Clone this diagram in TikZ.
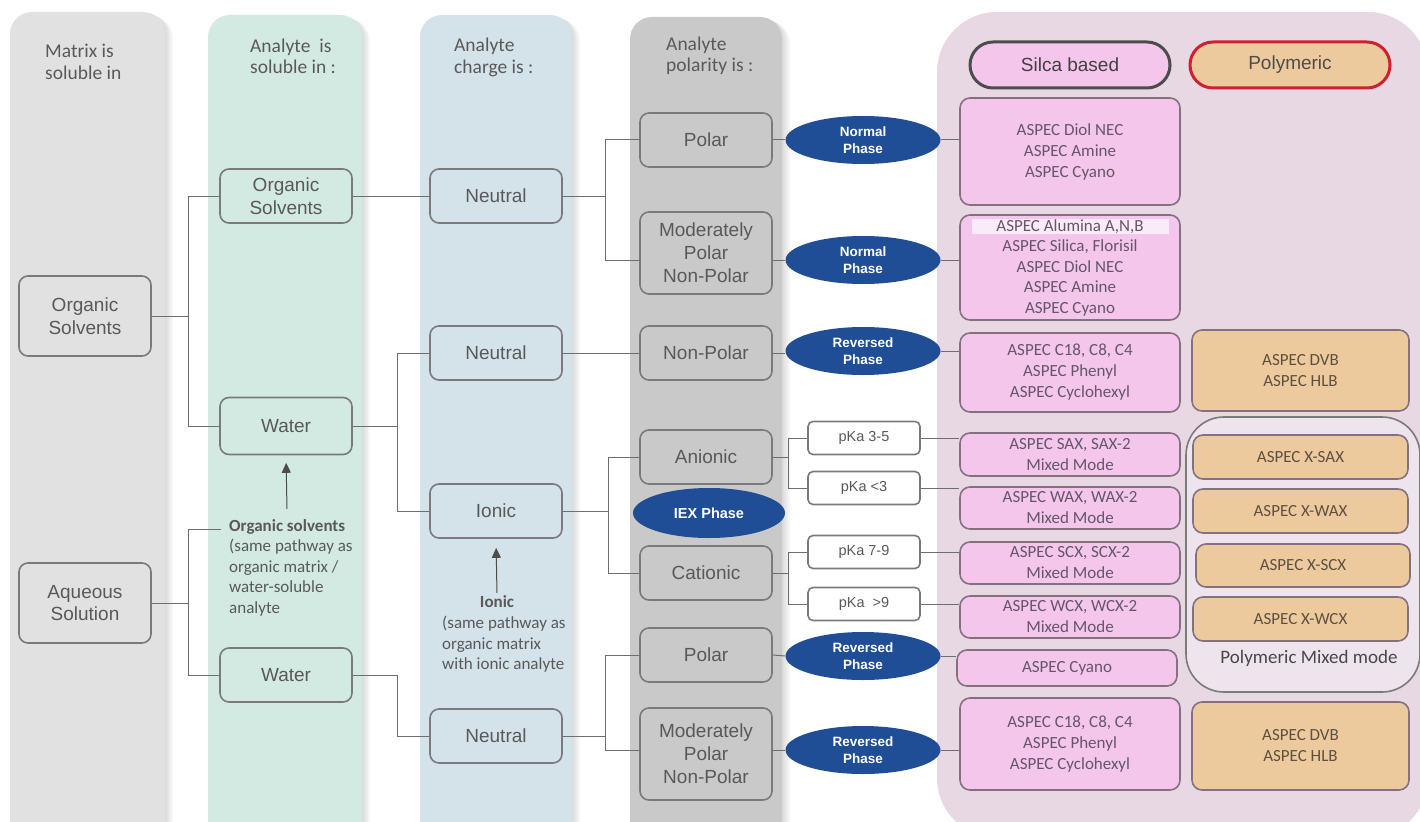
\documentclass[tikz,border=0pt]{standalone}
\usepackage{fontspec}
\setmainfont{Carlito}
\newfontfamily\arialfont{Liberation Sans}
\usetikzlibrary{arrows.meta, positioning, shapes.geometric}

\definecolor{bandmatrix}{HTML}{E1E1E1}
\definecolor{bandsolv}{HTML}{D3EAE2}
\definecolor{bandcharge}{HTML}{D4E2EA}
\definecolor{bandpol}{HTML}{C9C9C9}
\definecolor{bandsorb}{HTML}{E8D8E4}
\definecolor{mixfill}{HTML}{EEE4EE}
\definecolor{silpink}{HTML}{F5C6EC}
\definecolor{polytan}{HTML}{EDCA9E}
\definecolor{phaseblue}{HTML}{1F4E96}
\definecolor{boxedge}{HTML}{7A7A7A}
\definecolor{sorbedge}{HTML}{857080}
\definecolor{txtgray}{HTML}{595959}
\definecolor{sorbtxt}{HTML}{65566A}
\definecolor{polytxt}{HTML}{5E5040}
\definecolor{linkgray}{HTML}{6E6E6E}
\definecolor{polyred}{HTML}{D0202F}

\begin{document}
\begin{tikzpicture}[x=1pt, y=-1pt,
    box/.style={draw=boxedge, line width=1.6pt, rounded corners=9pt, minimum width=132pt,
      minimum height=54pt, align=center, text=txtgray, inner sep=2pt,
      font=\arialfont\fontsize{19}{22.5}\selectfont},
    phase/.style={ellipse, fill=phaseblue, minimum width=155pt, minimum height=48pt, inner sep=0pt,
      align=center, text=white, font=\arialfont\bfseries\fontsize{13.5}{17.5}\selectfont},
    pka/.style={draw=boxedge, fill=white, line width=1.6pt, rounded corners=5pt, minimum width=112pt,
      minimum height=33pt, inner sep=0pt, text=txtgray, font=\arialfont\fontsize{14.5}{17}\selectfont},
    sorb/.style={draw=sorbedge, line width=1.6pt, rounded corners=10pt, minimum width=220pt,
      inner sep=0pt, align=center, font=\fontsize{17}{21}\selectfont},
    silica/.style={sorb, fill=silpink, text=sorbtxt},
    poly/.style={sorb, fill=polytan, minimum width=217pt, text=polytxt},
    head/.style={anchor=north west, inner sep=0pt, align=left, text=txtgray,
      font=\fontsize{19.5}{21.5}\selectfont},
    note/.style={inner sep=0pt, align=left, text=txtgray, font=\fontsize{17}{20.6}\selectfont},
    notehead/.style={note, font=\bfseries\fontsize{17}{20.6}\selectfont},
    link/.style={draw=linkgray, line width=1pt},
    pointer/.style={draw=black!70, line width=1pt, -{Triangle[length=10pt, width=9pt]}},
    bandshade/.style={black, opacity=0.035, rounded corners=22pt}
  ]
  \useasboundingbox (0,0) rectangle (1420,821);

  % soft shadows of the bands
  \foreach \dx in {2,4,6,8} {
    \fill[bandshade] (10+\dx,12+\dx/2) rectangle (165+\dx,850);
    \fill[bandshade] (208+\dx,15+\dx/2) rectangle (362+\dx,850);
    \fill[bandshade] (420+\dx,15+\dx/2) rectangle (572+\dx,850);
    \fill[bandshade] (630+\dx,17+\dx/2) rectangle (782+\dx,850);
  }

  % column bands
  \fill[bandmatrix, rounded corners=22pt] (10,12) rectangle (165,850);
  \fill[bandsolv, rounded corners=22pt] (208,15) rectangle (362,850);
  \fill[bandcharge, rounded corners=22pt] (420,15) rectangle (572,850);
  \fill[bandpol, rounded corners=22pt] (630,17) rectangle (782,850);
  \fill[bandsorb, rounded corners=60pt] (937,12) rectangle (1428,838);

  % column headers
  \node[head] (hmatrix) at (45,44) {Matrix is\\soluble in};
  \node[head] (hsolv) at (250,38.5) {Analyte\ \ is\\soluble in :};
  \node[head] (hcharge) at (454,38) {Analyte\\charge is :};
  \node[head] (hpol) at (666,36.5) {Analyte\\polarity is :};

  % matrix
  \node[box, fill=bandmatrix, minimum height=80pt] (orgM) at (85,316) {Organic\\Solvents};
  \node[box, fill=bandmatrix, minimum height=80pt] (aqM) at (85,603) {Aqueous\\Solution};

  % analyte solubility
  \node[box, fill=bandsolv] (orgA) at (286,196) {Organic\\Solvents};
  \node[box, fill=bandsolv, minimum height=57pt] (waterA) at (286,426) {Water};
  \node[box, fill=bandsolv] (waterB) at (286,675) {Water};
  \node[notehead, anchor=base west] (orgNoteHead) at (229,531) {Organic solvents};
  \node[note, anchor=north west] (orgNote) at (229,539)
    {(same pathway as\\organic matrix /\\water-soluble\\analyte};

  % analyte charge
  \node[box, fill=bandcharge] (neuA) at (496,196) {Neutral};
  \node[box, fill=bandcharge] (neuB) at (496,353) {Neutral};
  \node[box, fill=bandcharge] (ionic) at (496,511) {Ionic};
  \node[box, fill=bandcharge] (neuC) at (496,736) {Neutral};
  \node[notehead, anchor=base] (ionNoteHead) at (497,607) {Ionic};
  \node[note, anchor=north west] (ionNote) at (442,616)
    {(same pathway as\\organic matrix\\with ionic analyte};

  % analyte polarity
  \node[box, fill=bandpol] (polA) at (706,140) {Polar};
  \node[box, fill=bandpol, minimum height=82pt, font=\arialfont\fontsize{19}{23}\selectfont]
    (modA) at (706,253) {Moderately\\Polar\\Non-Polar};
  \node[box, fill=bandpol] (nonpol) at (706,353) {Non-Polar};
  \node[box, fill=bandpol] (anionic) at (706,457) {Anionic};
  \node[box, fill=bandpol] (cationic) at (706,573) {Cationic};
  \node[box, fill=bandpol] (polB) at (706,655) {Polar};
  \node[box, fill=bandpol, minimum height=92pt, font=\arialfont\fontsize{19}{23}\selectfont]
    (modB) at (706,754) {Moderately\\Polar\\Non-Polar};
  \node[phase, minimum width=152pt, minimum height=50pt, font=\arialfont\bfseries\fontsize{14.5}{17}\selectfont]
    (iex) at (709,513) {IEX Phase};

  % phases
  \node[phase] (npA) at (863,140) {Normal\\Phase};
  \node[phase] (npB) at (863,260) {Normal\\Phase};
  \node[phase] (rpA) at (863,351) {Reversed\\Phase};
  \node[phase] (rpB) at (863,656) {Reversed\\Phase};
  \node[phase] (rpC) at (863,750) {Reversed\\Phase};

  % pKa ranges
  \node[pka] (pkaA) at (864,438) {pKa 3-5};
  \node[pka] (pkaB) at (864,488) {pKa <3};
  \node[pka] (pkaC) at (864,552) {pKa 7-9};
  \node[pka] (pkaD) at (864,604) {pKa\ \ >9};

  % sorbent headers
  \node[draw=black!70, fill=silpink, line width=3pt, rounded corners=23pt, minimum width=200pt,
    minimum height=46pt, text=black!75, font=\arialfont\fontsize{19}{22}\selectfont]
    (silHead) at (1070,65) {Silca based};
  \node[draw=polyred, fill=polytan, line width=3pt, rounded corners=23pt, minimum width=200pt,
    minimum height=46pt, text=black!70, font=\arialfont\fontsize{19}{22}\selectfont]
    (polyHead) at (1290,65) {Polymeric};

  % silica based sorbents
  \node[silica, minimum height=107pt] (silA) at (1070,151.5) {ASPEC Diol NEC\\ASPEC Amine\\ASPEC Cyano};
  \node[silica, minimum height=105pt, font=\fontsize{17}{20.5}\selectfont] (silB) at (1070,267.5)
    {\setlength{\fboxsep}{0.5pt}\colorbox{white!65!silpink}{\makebox[196pt]{ASPEC Alumina A,N,B}}\\
     ASPEC Silica, Florisil\\ASPEC Diol NEC\\ASPEC Amine\\ASPEC Cyano};
  \node[silica, minimum height=79pt] (silC) at (1070,372.5) {ASPEC C18, C8, C4\\ASPEC Phenyl\\ASPEC Cyclohexyl};
  \node[silica, minimum height=43pt] (silD) at (1070,454.5) {ASPEC SAX, SAX-2\\Mixed Mode};
  \node[silica, minimum height=42pt] (silE) at (1070,508) {ASPEC WAX, WAX-2\\Mixed Mode};
  \node[silica, minimum height=42pt] (silF) at (1070,563) {ASPEC SCX, SCX-2\\Mixed Mode};
  \node[silica, minimum height=42pt] (silG) at (1070,617) {ASPEC WCX, WCX-2\\Mixed Mode};
  \node[silica, minimum height=36pt] (silH) at (1067,668) {ASPEC Cyano};
  \node[silica, minimum height=92pt] (silI) at (1070,744) {ASPEC C18, C8, C4\\ASPEC Phenyl\\ASPEC Cyclohexyl};

  % polymeric sorbents
  \node[poly, minimum height=81pt] (polyA) at (1300.5,370.5) {ASPEC DVB\\ASPEC HLB};
  \node[draw=boxedge, fill=mixfill, line width=1.6pt, rounded corners=38pt, minimum width=234pt,
    minimum height=275pt] (mixmode) at (1303,554.5) {};
  \node[poly, minimum height=44pt, minimum width=215pt] (xsax) at (1300.5,457) {ASPEC X-SAX};
  \node[poly, minimum height=44pt, minimum width=215pt] (xwax) at (1300.5,511) {ASPEC X-WAX};
  \node[poly, minimum height=43pt, minimum width=214pt] (xscx) at (1303,565.5) {ASPEC X-SCX};
  \node[poly, minimum height=44pt, minimum width=215pt] (xwcx) at (1300.5,619) {ASPEC X-WCX};
  \node[text=black!72, font=\fontsize{19}{22}\selectfont] (mixLabel) at (1309,658) {Polymeric Mixed mode};
  \node[poly, minimum height=88pt] (polyB) at (1300.5,746) {ASPEC DVB\\ASPEC HLB};

  % matrix -> analyte solubility
  \draw[link] (orgM.east) -- ++(37,0) |- (orgA.west);
  \draw[link] (orgM.east) -- ++(37,0) |- (waterA.west);
  \draw[link] (aqM.east) -- ++(37,0) |- ([xshift=-8pt, yshift=-3pt]orgNoteHead.west);
  \draw[link] (aqM.east) -- ++(37,0) |- (waterB.west);
  \draw[pointer, shorten <=10pt, shorten >=7.5pt] (orgNoteHead.north) -- (waterA.south);

  % solubility -> charge
  \draw[link] (orgA.east) -- (neuA.west);
  \draw[link] (waterA.east) -- ++(45,0) |- (neuB.west);
  \draw[link] (waterA.east) -- ++(45,0) |- (ionic.west);
  \draw[link] (waterB.east) -- ++(45,0) |- (neuC.west);
  \draw[pointer, shorten <=2pt, shorten >=9pt] (ionNoteHead.north) -- (ionic.south);

  % charge -> polarity
  \draw[link] (neuA.east) -- ++(43,0) |- (polA.west);
  \draw[link] (neuA.east) -- ++(43,0) |- (modA.west |- npB.center);
  \draw[link] (neuB.east) -- (nonpol.west);
  \draw[link] (ionic.east) -- ++(46,0) |- (anionic.west);
  \draw[link] (ionic.east) -- ++(46,0) |- (cationic.west);
  \draw[link] (neuC.east) -- ++(43,0) |- (polB.west);
  \draw[link] (neuC.east) -- ++(43,0) |- (modB.west |- rpC.center);

  % polarity -> phase -> sorbent
  \draw[link] (polA.east) -- (npA.west);
  \draw[link] (npA.east) -- (npA.east -| silA.west);
  \draw[link] (modA.east |- npB.center) -- (npB.west);
  \draw[link] (npB.east) -- (npB.east -| silB.west);
  \draw[link] (nonpol.east) -- (rpA.west |- nonpol.east);
  \draw[link] (rpA.east) -- (rpA.east -| silC.west);
  \draw[link] (polB.east) -- (rpB.west);
  \draw[link] (rpB.east) -- (rpB.east -| silH.west);
  \draw[link] (modB.east |- rpC.center) -- (rpC.west);
  \draw[link] (rpC.east) -- (rpC.east -| silI.west);

  % ionic -> pKa -> sorbent
  \draw[link] (anionic.east) -- ++(16,0) |- (pkaA.west);
  \draw[link] (anionic.east) -- ++(16,0) |- (pkaB.west);
  \draw[link] (cationic.east) -- ++(16,0) |- (pkaC.west);
  \draw[link] (cationic.east) -- ++(16,0) |- (pkaD.west);
  \draw[link] (pkaA.east) -- (pkaA.east -| silD.west);
  \draw[link] (pkaB.east) -- (pkaB.east -| silE.west);
  \draw[link] (pkaC.east) -- (pkaC.east -| silF.west);
  \draw[link] (pkaD.east) -- (pkaD.east -| silG.west);
\end{tikzpicture}
\end{document}
